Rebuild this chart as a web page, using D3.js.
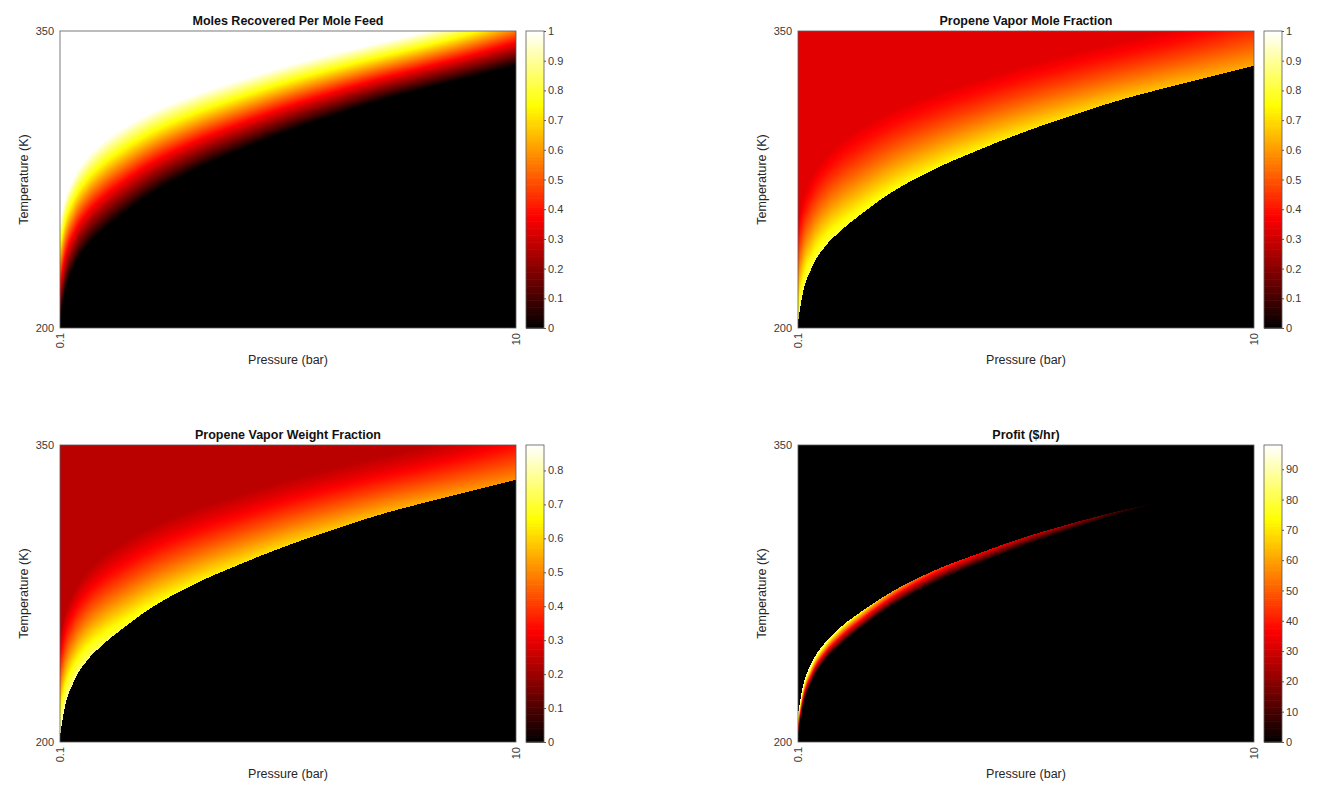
<!DOCTYPE html>
<html>
<head>
<meta charset="utf-8">
<script src="https://cdn.jsdelivr.net/npm/d3@7"></script>
<style>
  body { margin: 0; background: #fff; }
  text { font-family: "Liberation Sans", Arial, Helvetica, sans-serif; fill: #262626; }
</style>
</head>
<body>
<div id="vis"></div>
<script>
var pressures = [0.1, 0.2, 0.4, 0.7, 1, 1.5, 2, 3, 4, 5, 6, 7, 8, 9, 10];
var bubbleT   = [203, 217, 230.5, 241.5, 248.5, 258, 266.5, 279.5, 289.7, 298.9, 307, 314.5, 320.8, 326.6, 332.5];
var dewT      = [253.6, 264.4, 276.1, 286.4, 293.3, 301.5, 308, 317.7, 325.3, 332.4, 338.5, 344, 349.5, 356, 364];
// vapour composition right above the bubble line
var bubbleVapMole   = [0.86, 0.84, 0.82, 0.81, 0.80, 0.78, 0.77, 0.75, 0.74, 0.72, 0.70, 0.68, 0.66, 0.64, 0.62];
var bubbleVapWeight = [0.84, 0.80, 0.77, 0.75, 0.73, 0.70, 0.68, 0.65, 0.63, 0.61, 0.59, 0.57, 0.55, 0.53, 0.51];
// profit band: peak value and its width (fraction of the two-phase band)
var profitPeak  = [98, 96, 92, 87, 82, 74, 64, 48, 38, 32, 24, 12, 0, 0, 0];
var profitWidth = [0.22, 0.22, 0.21, 0.2, 0.2, 0.19, 0.18, 0.17, 0.15, 0.13, 0.1, 0.06, 0.03, 0.03, 0.03];
var feedMole = 0.335, feedWeight = 0.24;
// how the vapour composition falls across the two-phase band
var bandPos   = [0, 0.25, 0.5, 0.75, 1];
var bandShape = [1, 0.7, 0.42, 0.18, 0];

var titles = ["Moles Recovered Per Mole Feed", "Propene Vapor Mole Fraction",
              "Propene Vapor Weight Fraction", "Profit ($/hr)"];
var colorMax = [1, 1, 0.875, 98];
var ticksUnit = [0, 0.1, 0.2, 0.3, 0.4, 0.5, 0.6, 0.7, 0.8, 0.9, 1];
var ticksWeight = [0, 0.1, 0.2, 0.3, 0.4, 0.5, 0.6, 0.7, 0.8];
var ticksProfit = [0, 10, 20, 30, 40, 50, 60, 70, 80, 90];
var colorTicks = [ticksUnit, ticksUnit, ticksWeight, ticksProfit];
var pressureTicks = [0.1, 10];
var tempTicks = [200, 350];

var panelLeft = [60, 798, 60, 798],
    panelTop = [31, 31, 445, 445],
    w = 456,
    h = 297,
    cbGap = 10,
    cbWidth = 18;

var hot = d3.scaleLinear()
    .domain([0, 0.375, 0.75, 1])
    .range(["#000000", "#ff0000", "#ffff00", "#ffffff"])
    .clamp(true);
var lut = d3.range(256).map(function(i) { return d3.rgb(hot(i / 255)); });

// monotone cubic through the sampled points (same slopes as d3.curveMonotoneX)
function smoothCurve(xs, ys) {
  var n = xs.length, m = [];
  function sgn(v) { return v < 0 ? -1 : 1; }
  for (var i = 1; i < n - 1; i++) {
    var h0 = xs[i] - xs[i - 1], h1 = xs[i + 1] - xs[i];
    var s0 = (ys[i] - ys[i - 1]) / h0, s1 = (ys[i + 1] - ys[i]) / h1;
    var p = (s0 * h1 + s1 * h0) / (h0 + h1);
    m[i] = (sgn(s0) + sgn(s1)) * Math.min(Math.abs(s0), Math.abs(s1), 0.5 * Math.abs(p)) || 0;
  }
  m[0] = (3 * (ys[1] - ys[0]) / (xs[1] - xs[0]) - m[1]) / 2;
  m[n - 1] = (3 * (ys[n - 1] - ys[n - 2]) / (xs[n - 1] - xs[n - 2]) - m[n - 2]) / 2;
  return function(x) {
    var i = Math.max(0, Math.min(n - 2, d3.bisectRight(xs, x) - 1));
    var hh = xs[i + 1] - xs[i], t = (x - xs[i]) / hh;
    var t2 = t * t, t3 = t2 * t;
    return (2 * t3 - 3 * t2 + 1) * ys[i] + (t3 - 2 * t2 + t) * hh * m[i] +
           (-2 * t3 + 3 * t2) * ys[i + 1] + (t3 - t2) * hh * m[i + 1];
  };
}

var bubbleAt = smoothCurve(pressures, bubbleT);
var dewAt = smoothCurve(pressures, dewT);
var vapMoleAt = smoothCurve(pressures, bubbleVapMole);
var vapWeightAt = smoothCurve(pressures, bubbleVapWeight);
var peakAt = smoothCurve(pressures, profitPeak);
var widthAt = smoothCurve(pressures, profitWidth);
var shapeAt = smoothCurve(bandPos, bandShape);

var svg = d3.select("#vis").append("svg")
    .attr("width", 1323)
    .attr("height", 789);

function fieldValue(k, T, col) {
  var s = (T - col.tb) / (col.td - col.tb);
  if (k == 0) {
    if (s < 0) return 0;
    return s > 1 ? 1 : s;
  }
  if (k == 1 || k == 2) {
    var z = k == 1 ? feedMole : feedWeight;
    var yb = k == 1 ? col.ym : col.yw;
    if (s < 0) return 0;
    if (s >= 1) return z;
    return z + (yb - z) * shapeAt(s);
  }
  if (s < 0 || s > col.pw || col.pk <= 0) return 0;
  return col.pk * s / col.pw;
}

function drawPanel(k) {
  var g = svg.append("g")
      .attr("transform", "translate(" + panelLeft[k] + "," + panelTop[k] + ")");

  var x = d3.scaleLinear().domain([0.1, 10]).range([0, w]);
  var y = d3.scaleLinear().domain([200, 350]).range([h, 0]);
  var c = d3.scaleLinear().domain([0, colorMax[k]]).range([0, 1]).clamp(true);

  // paint the field into a canvas, then hand it to the svg
  var canvas = document.createElement("canvas");
  canvas.width = w;
  canvas.height = h;
  var ctx = canvas.getContext("2d");
  var img = ctx.createImageData(w, h);
  for (var px = 0; px < w; px++) {
    var P = x.invert(px + 0.5);
    var col = { tb: bubbleAt(P), td: dewAt(P), ym: vapMoleAt(P), yw: vapWeightAt(P),
                pk: peakAt(P), pw: widthAt(P) };
    for (var py = 0; py < h; py++) {
      var T = y.invert(py + 0.5);
      var rgb = lut[Math.round(c(fieldValue(k, T, col)) * 255)];
      var idx = (py * w + px) * 4;
      img.data[idx] = rgb.r;
      img.data[idx + 1] = rgb.g;
      img.data[idx + 2] = rgb.b;
      img.data[idx + 3] = 255;
    }
  }
  ctx.putImageData(img, 0, 0);

  g.append("image")
    .attr("width", w)
    .attr("height", h)
    .attr("preserveAspectRatio", "none")
    .attr("href", canvas.toDataURL());

  g.append("rect")
    .attr("width", w)
    .attr("height", h)
    .style("fill", "none")
    .style("stroke", "#5a5a5a")
    .style("stroke-width", 0.8);

  var xAxis = g.append("g")
    .attr("transform", "translate(0," + h + ")")
    .call(d3.axisBottom(x).tickValues(pressureTicks).tickSize(0).tickFormat(d3.format("~g")));
  xAxis.select(".domain").remove();
  xAxis.selectAll("text")
    .attr("transform", "rotate(-90)")
    .attr("x", -5)
    .attr("y", 0)
    .attr("dy", "0.35em")
    .style("text-anchor", "end")
    .style("font-size", "11px")
    .style("font-family", null);

  var yAxis = g.append("g")
    .call(d3.axisLeft(y).tickValues(tempTicks).tickSize(0).tickPadding(6));
  yAxis.select(".domain").remove();
  yAxis.selectAll("text").style("font-size", "11px").style("font-family", null);
  g.selectAll(".tick text").attr("fill", null).style("fill", "#3a3a3a");

  g.append("text")
    .attr("x", w / 2)
    .attr("y", -6)
    .style("text-anchor", "middle")
    .style("font-size", "12.5px")
    .style("font-weight", "bold")
    .style("fill", "#111")
    .text(titles[k]);

  g.append("text")
    .attr("x", w / 2)
    .attr("y", h + 36)
    .style("text-anchor", "middle")
    .style("font-size", "12.5px")
    .text("Pressure (bar)");

  g.append("text")
    .attr("transform", "translate(-32," + (h / 2) + ") rotate(-90)")
    .style("text-anchor", "middle")
    .style("font-size", "12.5px")
    .text("Temperature (K)");

  // colorbar
  var cb = g.append("g").attr("transform", "translate(" + (w + cbGap) + ",0)");
  var cy = d3.scaleLinear().domain([0, colorMax[k]]).range([h, 0]);
  var steps = 128;
  cb.selectAll("rect.step")
    .data(d3.range(steps))
    .enter().append("rect")
    .attr("class", "step")
    .attr("x", 0)
    .attr("width", cbWidth)
    .attr("y", function(i) { return h - (i + 1) * h / steps; })
    .attr("height", h / steps + 0.6)
    .style("fill", function(i) { return hot((i + 0.5) / steps); });
  cb.append("rect")
    .attr("width", cbWidth)
    .attr("height", h)
    .style("fill", "none")
    .style("stroke", "#5a5a5a")
    .style("stroke-width", 0.8);
  var cAxis = cb.append("g")
    .attr("transform", "translate(" + cbWidth + ",0)")
    .call(d3.axisRight(cy).tickValues(colorTicks[k]).tickSize(2).tickPadding(2).tickFormat(d3.format("~g")));
  cAxis.select(".domain").remove();
  cAxis.selectAll("line").attr("stroke", "#5a5a5a");
  cAxis.selectAll("text")
    .attr("fill", null)
    .style("fill", "#3a3a3a")
    .style("font-size", "11px")
    .style("font-family", null);
}

d3.range(4).forEach(drawPanel);
</script>
</body>
</html>
